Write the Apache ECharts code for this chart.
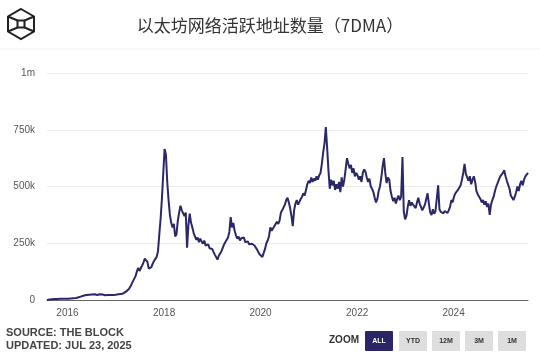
<!DOCTYPE html>
<html>
<head>
<meta charset="utf-8">
<script src="https://cdn.jsdelivr.net/npm/echarts@6/dist/echarts.min.js"></script>
<style>html,body{margin:0;padding:0;background:#fff}#c{width:540px;height:357px}</style>
</head>
<body>
<div id="c"></div>
<script>
const titleText = '以太坊网络活跃地址数量（7DMA）';
const yTicks = [0, 250000, 500000, 750000, 1000000];
const yTickLabels = ['0', '250k', '500k', '750k', '1m'];
const xLabelDates = ['2016-01-01', '2018-01-01', '2020-01-01', '2022-01-01', '2024-01-01'];
const xLabelTexts = ['2016', '2018', '2020', '2022', '2024'];
// one reading every 10 days, starting on this date
const startDate = '2015-07-30';
const stepDays = 10;
// active addresses (7DMA), thousands
const activeK = [
// 2015
0,1,2,2,3,3,4,4,4,5,5,5,5,5,6,6,
// 2016
6,6,7,7,8,8,9,10,12,14,16,18,20,21,22,21,23,22,24,23,25,24,22,24,25,23,24,22,21,23,22,24,22,21,22,22,
// 2017
23,24,25,24,26,27,30,35,38,42,48,58,70,82,90,105,125,142,128,135,152,165,182,175,168,138,132,145,160,172,176,190,215,290,360,450,560,
// 2018
665,640,520,440,375,340,320,335,280,290,350,385,415,395,400,370,385,230,330,380,340,320,295,300,265,275,255,270,258,248,262,240,232,245,228,220,225,
// 2019
212,200,195,178,195,205,215,230,245,255,250,275,300,365,320,340,305,285,270,280,262,272,268,275,255,250,258,245,240,248,252,240,232,222,210,200,
// 2020
205,190,188,225,250,262,280,320,305,300,325,320,345,335,350,385,395,400,420,440,450,430,405,370,325,395,425,440,420,432,445,455,470,460,485,510,525,
// 2021
515,540,520,535,525,545,530,550,560,600,650,690,762,670,570,490,530,505,525,485,510,490,520,475,540,500,530,575,625,600,580,595,560,580,545,560,
// 2022
550,530,545,520,560,575,565,540,520,535,500,490,475,450,430,445,480,500,540,590,625,560,515,540,530,480,455,435,450,425,445,460,440,455,630,390,355,
// 2023
370,410,440,415,430,420,428,405,430,450,425,410,395,388,420,445,470,425,385,374,400,380,392,385,505,400,388,395,382,392,385,383,395,410,440,430,
// 2024
455,470,462,485,480,505,530,560,600,555,540,525,545,510,530,545,520,480,465,470,445,430,440,420,435,410,425,375,420,440,455,480,500,515,530,545,540,
// 2025
560,572,545,525,530,490,460,450,440,455,475,500,480,510,525,505,530,545,540,560
];

const DAY = 86400000;
const ts = d => Date.parse(d + 'T00:00:00Z');
const t0 = ts(startDate);
const seriesData = activeK.map((v, i) => [t0 + i * stepDays * DAY, v * 1000]);
const xLabelValues = xLabelDates.map(ts);
const chart = echarts.init(document.getElementById('c'));
const navy = '#2b2868';
function btn(x, w, label, active) {
  return {
    type: 'group', left: x, top: 331,
    children: [
      { type: 'rect', shape: { x: 0, y: 0, width: w, height: 20, r: 1 },
        style: { fill: active ? '#2b2466' : '#dedede' } },
      { type: 'text', style: { text: label, x: w / 2, y: 10, align: 'center', verticalAlign: 'middle',
        fill: active ? '#fff' : '#333', font: 'bold 7px "Liberation Sans", Arial, sans-serif' } }
    ]
  };
}
chart.setOption({
  animation: false,
  backgroundColor: '#fff',
  title: {
    text: titleText, left: 'center', top: 12,
    textStyle: { fontFamily: '"Noto Sans CJK SC", sans-serif', fontSize: 17, fontWeight: 'normal', color: '#333' }
  },
  grid: { left: 47, right: 12, top: 73, bottom: 57 },
  xAxis: {
    type: 'value',
    min: seriesData[0][0], max: seriesData[seriesData.length - 1][0],
    axisLine: { show: true, onZero: false, lineStyle: { color: '#666', width: 1 } },
    axisTick: { show: false },
    splitLine: { show: false },
    axisLabel: {
      customValues: xLabelValues,
      formatter: v => xLabelTexts[xLabelValues.indexOf(v)] || '',
      color: '#555', fontSize: 10, margin: 8,
      fontFamily: '"Liberation Sans", Arial, sans-serif'
    }
  },
  yAxis: {
    type: 'value', min: 0, max: 1000000, interval: 250000,
    axisLine: { show: false }, axisTick: { show: false },
    splitLine: { lineStyle: { color: '#ececec', width: 1 } },
    axisLabel: {
      formatter: v => yTickLabels[yTicks.indexOf(v)],
      color: '#555', fontSize: 10, margin: 12,
      fontFamily: '"Liberation Sans", Arial, sans-serif'
    }
  },
  series: [{
    type: 'line', data: seriesData, showSymbol: false, smooth: false,
    lineStyle: { color: navy, width: 2 }, z: 3
  }],
  graphic: [
    { type: 'line', shape: { x1: 0, y1: 49, x2: 540, y2: 49 }, style: { stroke: '#f1f0ea', lineWidth: 1 } },
    { type: 'polygon', shape: { points: [[21,9],[34,16.5],[34,31.5],[21,39],[8,31.5],[8,16.5]] },
      style: { fill: 'none', stroke: '#222', lineWidth: 2 } },
    { type: 'rect', shape: { x: 17.5, y: 20.5, width: 7, height: 7 }, style: { fill: 'none', stroke: '#222', lineWidth: 2 } },
    { type: 'line', shape: { x1: 8, y1: 16.5, x2: 17.5, y2: 20.5 }, style: { stroke: '#222', lineWidth: 2 } },
    { type: 'line', shape: { x1: 34, y1: 16.5, x2: 24.5, y2: 20.5 }, style: { stroke: '#222', lineWidth: 2 } },
    { type: 'line', shape: { x1: 8, y1: 31.5, x2: 17.5, y2: 27.5 }, style: { stroke: '#222', lineWidth: 2 } },
    { type: 'line', shape: { x1: 34, y1: 31.5, x2: 24.5, y2: 27.5 }, style: { stroke: '#222', lineWidth: 2 } },
    { type: 'text', left: 6, top: 327, style: { text: 'SOURCE: THE BLOCK', fill: '#444', font: 'bold 11px "Liberation Sans", Arial, sans-serif' } },
    { type: 'text', left: 6, top: 340, style: { text: 'UPDATED: JUL 23, 2025', fill: '#444', font: 'bold 11px "Liberation Sans", Arial, sans-serif' } },
    { type: 'text', left: 329, top: 335, style: { text: 'ZOOM', fill: '#333', font: 'bold 10px "Liberation Sans", Arial, sans-serif' } },
    btn(365, 28, 'ALL', true),
    btn(399, 28, 'YTD', false),
    btn(432, 28, '12M', false),
    btn(465, 28, '3M', false),
    btn(498, 28, '1M', false)
  ]
});
</script>
</body>
</html>
